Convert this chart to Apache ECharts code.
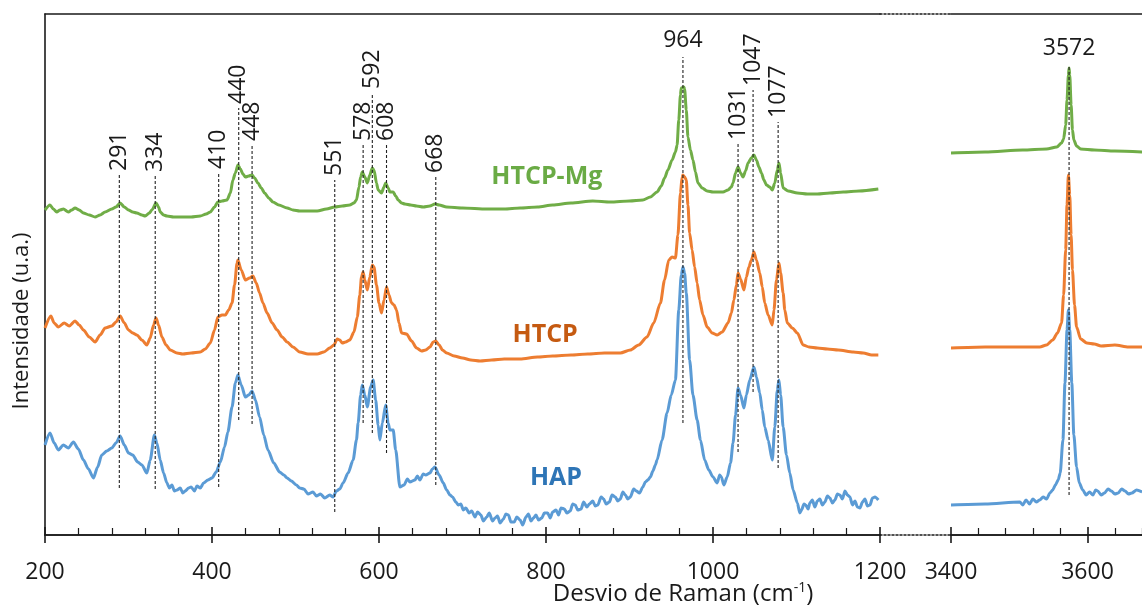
<!DOCTYPE html>
<html>
<head>
<meta charset="utf-8">
<script src="https://cdn.jsdelivr.net/npm/echarts@6/dist/echarts.min.js"></script>
<style>
html,body{margin:0;padding:0;background:#fff;}
#chart{width:1142px;height:605px;}
</style>
</head>
<body>
<div id="chart"></div>
<script>
// ---------- DATA (Raman shift in cm-1, intensity in arbitrary units) ----------
const HAP_LOW = [[200,90],[206,102],[211,92],[216,85],[222,90],[228,87],[234,93],[240,86],[246,75],[252,66],[258,57],[263,68],[268,80],[274,84],[280,87],[285,92],[290,99],[295,90],[300,82],[305,80],[311,73],[316,70],[322,62],[326,75],[331,100],[334,92],[338,75],[342,62],[346,52],[349,47],[352,50],[355,44],[358,45],[362,47],[365,42],[368,44],[372,47],[375,48],[379,44],[382,49],[386,47],[390,52],[395,55],[400,57],[405,63],[410,73],[415,88],[419,103],[424,128],[428,152],[431,160],[435,150],[440,138],[444,140],[448,144],[452,135],[457,118],[462,100],[467,85],[474,72],[481,63],[486,60],[490,57],[495,54],[501,50],[505,47],[510,46],[515,41],[521,43],[525,39],[530,41],[535,37],[541,40],[545,38],[549,44],[553,46],[557,52],[563,62],[569,75],[573,95],[575,112],[578,140],[580,150],[583,140],[586,128],[590,148],[593,155],[596,135],[599,110],[601,95],[604,112],[608,130],[611,112],[613,105],[617,105],[620,85],[625,48],[630,50],[634,56],[637,53],[643,55],[646,59],[649,55],[653,61],[656,60],[661,62],[664,66],[667,68],[672,60],[677,52],[681,45],[685,40],[688,38],[692,33],[695,30],[698,31],[701,25],[704,27],[708,22],[711,24],[715,18],[718,23],[722,20],[725,14],[729,18],[732,22],[736,14],[739,17],[742,19],[745,12],[749,16],[752,21],[755,20],[758,13],[762,13],[765,18],[769,15],[772,10],[776,18],[779,21],[782,14],[785,17],[788,20],[791,15],[795,17],[798,22],[802,22],[805,17],[808,23],[812,25],[815,20],[818,27],[822,26],[825,22],[829,24],[832,31],[835,30],[838,25],[842,26],[845,33],[849,28],[852,31],[856,34],[859,29],[862,30],[866,38],[869,36],[872,31],[876,33],[879,40],[883,38],[886,34],[889,36],[892,43],[895,40],[898,36],[901,38],[905,46],[908,44],[912,42],[916,48],[919,53],[922,55],[925,58],[928,64],[931,70],[933,75],[939,95],[945,122],[950,140],[955,155],[959,225],[962,260],[964,268],[966,262],[968,242],[972,175],[976,140],[981,115],[985,95],[990,75],[995,65],[1000,58],[1005,52],[1008,60],[1010,58],[1013,50],[1017,58],[1021,72],[1024,92],[1027,120],[1030,147],[1033,140],[1037,127],[1040,140],[1044,155],[1049,168],[1052,158],[1056,142],[1059,125],[1062,108],[1066,95],[1071,75],[1074,108],[1077,145],[1079,155],[1081,140],[1084,108],[1088,80],[1092,62],[1096,45],[1101,32],[1104,22],[1106,25],[1109,31],[1111,30],[1114,26],[1116,32],[1119,35],[1122,28],[1125,34],[1128,36],[1131,30],[1134,33],[1137,39],[1140,37],[1143,32],[1146,35],[1149,41],[1152,40],[1155,36],[1158,44],[1161,40],[1164,38],[1167,30],[1170,34],[1173,28],[1176,27],[1179,33],[1182,36],[1185,29],[1188,30],[1191,37],[1194,38],[1198,35]];
const HAP_HIGH = [[3400,30],[3450,31],[3501,33],[3505,30],[3510,35],[3515,31],[3520,36],[3525,33],[3530,35],[3535,38],[3540,36],[3545,42],[3549,45],[3553,50],[3557,55],[3560,62],[3564,95],[3567,152],[3570,205],[3572,225],[3574,205],[3577,152],[3580,100],[3584,68],[3588,52],[3593,45],[3598,40],[3603,43],[3608,40],[3612,45],[3615,44],[3620,40],[3625,42],[3630,46],[3635,44],[3640,41],[3645,42],[3650,46],[3655,44],[3660,41],[3665,42],[3672,45],[3680,43]];

const HTCP_LOW = [[200,207],[207,219],[211,212],[216,208],[223,212],[229,209],[236,214],[241,210],[246,205],[253,198],[260,193],[266,200],[272,207],[280,209],[285,213],[290,219],[295,212],[300,205],[305,202],[310,200],[316,195],[322,190],[326,197],[330,210],[333,217],[336,210],[340,198],[345,190],[350,185],[358,182],[365,181],[375,182],[386,183],[392,186],[398,192],[403,205],[407,218],[412,220],[416,220],[420,225],[424,232],[427,250],[430,272],[431,275],[435,265],[440,255],[445,257],[449,259],[453,252],[457,242],[461,232],[466,222],[472,212],[478,205],[484,198],[490,193],[497,188],[505,183],[515,181],[526,181],[534,183],[541,187],[546,190],[550,196],[553,195],[556,192],[560,193],[565,195],[570,203],[574,218],[577,240],[579,258],[581,263],[583,255],[586,245],[589,258],[592,270],[594,268],[597,250],[600,232],[603,222],[606,235],[609,248],[612,240],[615,232],[618,230],[621,225],[624,212],[627,202],[633,201],[639,194],[645,187],[651,184],[656,185],[661,188],[665,193],[668,194],[672,190],[676,185],[681,182],[690,179],[700,177],[710,175],[721,174],[735,175],[750,176],[769,176],[790,178],[808,179],[830,180],[850,181],[870,182],[889,182],[901,185],[911,190],[921,198],[929,212],[937,232],[942,255],[947,275],[951,278],[955,277],[958,300],[961,342],[963,358],[964,360],[966,358],[968,355],[970,330],[972,302],[975,285],[978,268],[981,252],[984,235],[988,220],[993,208],[999,202],[1005,200],[1011,203],[1018,212],[1022,222],[1025,235],[1028,250],[1030,262],[1033,256],[1037,245],[1040,258],[1043,268],[1046,275],[1049,283],[1052,275],[1056,262],[1059,248],[1062,232],[1066,220],[1071,210],[1073,225],[1076,255],[1079,272],[1081,262],[1084,242],[1086,225],[1089,212],[1095,207],[1101,202],[1108,190],[1115,188],[1125,187],[1137,186],[1150,185],[1168,183],[1180,182],[1190,180],[1198,180]];
const HTCP_HIGH = [[3400,187],[3450,188],[3500,188],[3530,188],[3540,190],[3549,195],[3556,202],[3562,212],[3565,240],[3568,285],[3570,330],[3572,360],[3574,340],[3576,300],[3578,265],[3581,230],[3584,208],[3590,196],[3599,192],[3610,191],[3620,189],[3640,190],[3660,188],[3680,188]];

const MG_LOW = [[200,325],[206,330],[210,326],[214,323],[218,325],[222,326],[228,323],[232,325],[236,327],[241,325],[246,322],[253,320],[260,318],[266,320],[272,323],[280,326],[285,328],[290,332],[295,328],[300,325],[305,323],[310,322],[316,320],[320,319],[325,322],[328,325],[333,332],[336,328],[338,323],[342,320],[346,319],[354,318],[362,318],[375,318],[386,319],[393,321],[398,323],[403,328],[407,333],[412,334],[418,335],[422,342],[425,355],[428,362],[431,370],[434,366],[437,361],[440,358],[444,359],[448,360],[451,357],[455,352],[459,347],[463,342],[468,337],[473,333],[480,330],[490,327],[497,325],[505,324],[515,324],[526,324],[537,326],[547,328],[556,329],[565,330],[570,332],[573,335],[576,348],[578,358],[580,363],[583,358],[586,352],[589,360],[592,367],[594,365],[597,352],[599,345],[603,342],[606,348],[608,352],[611,347],[613,343],[617,343],[620,339],[623,335],[627,332],[631,331],[638,330],[645,329],[653,328],[661,329],[667,331],[672,330],[681,328],[700,327],[729,326],[750,326],[769,327],[790,328],[808,330],[830,332],[856,334],[877,333],[900,334],[916,335],[925,338],[933,343],[938,349],[942,357],[946,365],[951,375],[955,383],[957,390],[959,415],[961,440],[962,447],[965,448],[966,446],[968,425],[970,398],[973,385],[976,375],[979,363],[982,352],[987,347],[993,344],[1000,343],[1012,343],[1018,345],[1022,348],[1024,352],[1027,362],[1030,368],[1033,362],[1036,358],[1039,364],[1042,372],[1046,377],[1049,380],[1052,375],[1055,368],[1058,362],[1061,355],[1064,350],[1068,348],[1071,345],[1074,352],[1077,365],[1079,372],[1081,362],[1084,347],[1090,344],[1101,342],[1113,341],[1125,341],[1140,342],[1156,343],[1175,344],[1198,346]];
const MG_HIGH = [[3400,382],[3450,383],[3505,385],[3540,386],[3555,388],[3562,392],[3565,396],[3568,410],[3570,435],[3572,460],[3573,467],[3574,460],[3576,430],[3578,405],[3580,395],[3584,389],[3590,386],[3610,385],[3640,384],[3680,383]];

// peak annotations: label text, position of marker line, line top / bottom (intensity)
const PEAK_LABELS = ['291','334','410','440','448','551','578','592','608','668','964','1031','1047','1077'];
const PEAK_X      = [289, 332, 408, 432, 448, 547, 581, 592, 609, 668, 964, 1030, 1048, 1078];
const PEAK_TOP    = [360, 359, 362, 427, 390, 355, 390, 442, 390, 358, 478, 391, 445, 413];
const PEAK_BOTTOM = [47, 46, 48, 115, 111, 23, 112, 102, 82, 50, 112, 83, 143, 67];
const PEAK2_LABELS = ['3572'];
const PEAK2_X = [3573];
const PEAK2_TOP = [470];
const PEAK2_BOTTOM = [40];

const SERIES_NAMES = ['HAP', 'HTCP', 'HTCP-Mg'];
const NAME_POS = [[812, 57], [799, 200], [801, 358]];

const X_TICKS_LOW = {min: 200, max: 1200, major: 200, minorSplit: 5};
const X_TICKS_HIGH = {min: 3400, max: 3800, major: 200, minorSplit: 5};
const Y_RANGE = {min: 0, max: 521};

// ---------- STYLE ----------
const FONT = '"Open Sans", "Noto Sans", sans-serif';
const AXIS_COLOR = '#1a1a1a';
const LINE_COLORS = ['#5b9bd5', '#ed7d31', '#70ad47'];
const NAME_COLORS = ['#2e75b6', '#c55a11', '#6aab45'];
const HORIZONTAL_LABELS = ['964', '3572'];

const chart = echarts.init(document.getElementById('chart'), null, {renderer: 'canvas'});

// plot geometry: left panel 200-1200, break, right panel from 3400 (cut at the page edge)
const G0 = {left: 45, top: 14, width: 835, height: 521};
const G1 = {left: 880, top: 14, width: 71, height: 521};
const G2 = {left: 951, top: 14, width: 273, height: 521};

const axisLineStyle = {color: AXIS_COLOR, width: 1.6};

// axis with line + inward major and minor ticks
function innerX(grid, r) {
  return {
    type: 'value', gridIndex: grid, min: r.min, max: r.max, interval: r.major,
    position: 'bottom',
    axisLine: {show: true, onZero: false, lineStyle: axisLineStyle},
    axisTick: {show: true, inside: true, length: 8, lineStyle: axisLineStyle},
    minorTick: {show: true, splitNumber: r.minorSplit, length: 7, lineStyle: {color: AXIS_COLOR, width: 1.2}},
    axisLabel: {show: false},
    splitLine: {show: false}, minorSplitLine: {show: false}
  };
}
// overlay axis with outward major ticks and labels
function outerX(grid, r) {
  return {
    type: 'value', gridIndex: grid, min: r.min, max: r.max, interval: r.major,
    position: 'bottom',
    axisLine: {show: true, onZero: false, lineStyle: axisLineStyle},
    axisTick: {show: true, inside: false, length: 8, lineStyle: axisLineStyle},
    axisLabel: {show: true, margin: 26, fontSize: 23, fontFamily: FONT, color: AXIS_COLOR,
                formatter: v => String(v)},
    splitLine: {show: false}
  };
}
function topX(grid, r, dotted) {
  return {
    type: 'value', gridIndex: grid, min: r.min, max: r.max, position: 'top',
    axisLine: {show: true, onZero: false, lineStyle: dotted ? {color: AXIS_COLOR, width: 1.6, type: [2, 2]} : axisLineStyle},
    axisTick: {show: false}, axisLabel: {show: false}, splitLine: {show: false}
  };
}
function bottomDotted(grid) {
  return {
    type: 'value', gridIndex: grid, min: 0, max: 1, position: 'bottom',
    axisLine: {show: true, onZero: false, lineStyle: {color: AXIS_COLOR, width: 1.6, type: [2, 2]}},
    axisTick: {show: false}, axisLabel: {show: false}, splitLine: {show: false}
  };
}

function peakRenderer(labels) {
  return function (params, api) {
    const x = api.value(0), top = api.value(1), bot = api.value(2);
    const pT = api.coord([x, top]);
    const pB = api.coord([x, bot]);
    const text = labels[params.dataIndex];
    const horiz = HORIZONTAL_LABELS.indexOf(text) >= 0;
    return {
      type: 'group',
      children: [
        {type: 'line', shape: {x1: pB[0], y1: pB[1], x2: pT[0], y2: pT[1]},
         style: {stroke: '#222', lineWidth: 1.1, lineDash: [3, 2]}},
        {type: 'text', x: pT[0], y: horiz ? pT[1] - 17 : pT[1] - 4, rotation: horiz ? 0 : Math.PI / 2,
         style: {text: text, font: '23px ' + FONT, fill: AXIS_COLOR,
                 align: horiz ? 'center' : 'left', verticalAlign: 'middle',
                 textAlign: horiz ? 'center' : 'left', textVerticalAlign: 'middle'}}
      ]
    };
  };
}

function lineSeries(name, data, xi, yi, idx, withName) {
  const s = {
    name: name, type: 'line', data: data, xAxisIndex: xi, yAxisIndex: yi,
    showSymbol: false, symbol: 'none', smooth: 0.25, smoothMonotone: 'x',
    lineStyle: {color: LINE_COLORS[idx], width: 3}, itemStyle: {color: LINE_COLORS[idx]},
    z: 2, silent: true
  };
  if (withName) {
    s.markPoint = {
      symbol: 'circle', symbolSize: 0, silent: true,
      data: [{coord: NAME_POS[idx], value: name}],
      label: {show: true, position: 'inside', formatter: name, color: NAME_COLORS[idx],
              fontFamily: FONT, fontWeight: 'bold', fontSize: 25}
    };
  }
  return s;
}

const hiddenY = g => ({type: 'value', gridIndex: g, min: Y_RANGE.min, max: Y_RANGE.max, show: false});

const option = {
  animation: false,
  backgroundColor: '#fff',
  grid: [G0, G1, G2, G0, G2].map(g => Object.assign({containLabel: false, outerBoundsMode: 'none'}, g)),
  xAxis: [
    innerX(0, X_TICKS_LOW),          // 0
    topX(0, X_TICKS_LOW, false),     // 1
    bottomDotted(1),                 // 2
    topX(1, {min: 0, max: 1}, true), // 3
    innerX(2, X_TICKS_HIGH),         // 4
    topX(2, X_TICKS_HIGH, false),    // 5
    outerX(3, X_TICKS_LOW),          // 6
    outerX(4, X_TICKS_HIGH)          // 7
  ],
  yAxis: [
    {type: 'value', gridIndex: 0, min: Y_RANGE.min, max: Y_RANGE.max,
     axisLine: {show: true, lineStyle: axisLineStyle}, axisTick: {show: false},
     axisLabel: {show: false}, splitLine: {show: false}},
    hiddenY(1), hiddenY(2), hiddenY(3), hiddenY(4)
  ],
  graphic: [
    {type: 'text', x: 22, y: 321, rotation: Math.PI / 2,
     style: {text: 'Intensidade (u.a.)', font: '22px ' + FONT, fill: AXIS_COLOR,
             align: 'center', verticalAlign: 'middle', textAlign: 'center', textVerticalAlign: 'middle'}},
    {type: 'text', x: 683, y: 594,
     style: {text: '{a|Desvio de Raman (cm}{s|-1}{a|)}', fill: AXIS_COLOR,
             align: 'center', verticalAlign: 'middle', textAlign: 'center', textVerticalAlign: 'middle',
             rich: {
               a: {fontSize: 24, fontFamily: FONT, color: AXIS_COLOR},
               s: {fontSize: 14, fontFamily: FONT, color: AXIS_COLOR, padding: [0, 0, 11, 0]}
             }}}
  ],
  series: [
    lineSeries('HAP', HAP_LOW, 0, 0, 0, true),
    lineSeries('HTCP', HTCP_LOW, 0, 0, 1, true),
    lineSeries('HTCP-Mg', MG_LOW, 0, 0, 2, true),
    lineSeries('HAP', HAP_HIGH, 4, 2, 0, false),
    lineSeries('HTCP', HTCP_HIGH, 4, 2, 1, false),
    lineSeries('HTCP-Mg', MG_HIGH, 4, 2, 2, false),
    {type: 'custom', xAxisIndex: 0, yAxisIndex: 0, z: 5, silent: true, clip: false,
     data: PEAK_X.map((x, i) => [x, PEAK_TOP[i], PEAK_BOTTOM[i]]),
     renderItem: peakRenderer(PEAK_LABELS)},
    {type: 'custom', xAxisIndex: 4, yAxisIndex: 2, z: 5, silent: true, clip: false,
     data: PEAK2_X.map((x, i) => [x, PEAK2_TOP[i], PEAK2_BOTTOM[i]]),
     renderItem: peakRenderer(PEAK2_LABELS)}
  ]
};
chart.setOption(option);
</script>
</body>
</html>
